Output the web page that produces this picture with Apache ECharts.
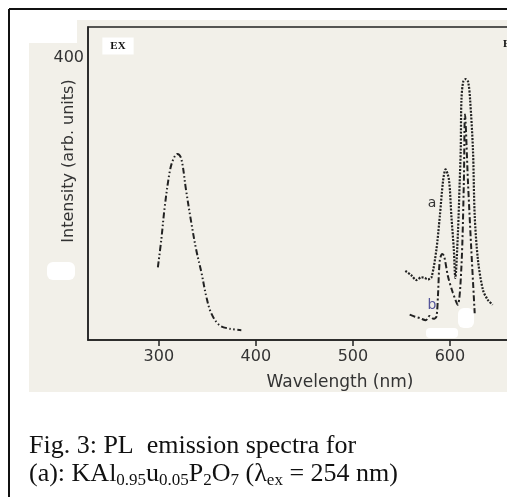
<!DOCTYPE html>
<html>
<head>
<meta charset="utf-8">
<script src="https://cdn.jsdelivr.net/npm/echarts@6/dist/echarts.min.js"></script>
<style>
html,body{margin:0;padding:0;background:#fff;}
#chart{width:507px;height:497px;}
</style>
</head>
<body>
<div id="chart"></div>
<script>
// Excitation spectrum (EX)
var exWl = [299, 302.5, 306, 311, 314.5, 319, 323, 328, 333.5, 338.5, 344, 349, 354, 362.5, 373, 385];
var exI  = [103, 142, 188, 237, 255, 264, 258, 213, 166, 128, 95, 61, 38, 21, 16, 14];
// Emission curve a
var aWl = [554, 560, 565.5, 570.5, 574, 577.5, 581, 586, 589.5, 593, 595.5, 599, 601.5, 604, 605.5, 608.2, 610, 611.1, 611.8, 613.6, 616.2, 618.8, 620.8, 623.7, 625.5, 628.9, 634, 639, 644];
var aI  = [98, 92, 85, 89, 88, 86, 89, 128, 175, 227, 242, 227, 175, 128, 88, 152, 223, 270, 340, 366, 370, 366, 340, 270, 176, 113, 71, 57, 50];
// Emission curve b
var bWl = [558.5, 564, 569, 575, 579, 583, 586, 587.6, 589.5, 592, 594, 598, 603, 608, 611.8, 614.3, 615.5, 618.6, 622, 625.5];
var bI  = [36, 33, 31, 28, 34, 30, 33, 62, 113, 122, 119, 90, 67, 50, 104, 223, 320, 223, 128, 38];
// Axis ticks
var xTicks = [300, 400, 500, 600];
var yTicks = [400];
var xMin = 227, xMax = 700, yMin = 0, yMax = 444;

function pairs(xs, ys) { return xs.map(function (x, i) { return [x, ys[i]]; }); }

var chart = echarts.init(document.getElementById('chart'));
var sans = 'DejaVu Sans';
var serif = 'Liberation Serif';
chart.setOption({
  animation: false,
  backgroundColor: '#ffffff',
  grid: {
    left: 88, top: 27, right: -40, bottom: 157,
    outerBoundsMode: 'none', containLabel: false,
    show: true, backgroundColor: 'transparent', borderColor: '#222', borderWidth: 1.5
  },
  xAxis: {
    type: 'value', min: xMin, max: xMax,
    axisLine: { show: true, lineStyle: { color: '#222', width: 1.5 } },
    axisTick: { show: true, customValues: xTicks, length: 6, lineStyle: { color: '#222', width: 1.5 } },
    axisLabel: { customValues: xTicks, margin: 9, fontFamily: sans, fontSize: 16, color: '#333' },
    splitLine: { show: false }
  },
  yAxis: {
    type: 'value', min: yMin, max: yMax,
    axisLine: { show: true, lineStyle: { color: '#222', width: 1.5 } },
    axisTick: { show: false },
    axisLabel: { customValues: yTicks, margin: 4, fontFamily: sans, fontSize: 16, color: '#333' },
    splitLine: { show: false }
  },
  series: [
    {
      type: 'line', name: 'EX', data: pairs(exWl, exI), showSymbol: false, smooth: 0.35,
      lineStyle: { color: '#222', width: 2, type: [6, 2.5, 1.5, 2.5, 1.5, 2.5] }
    },
    {
      type: 'line', name: 'a', data: pairs(aWl, aI), showSymbol: false, smooth: 0.3,
      lineStyle: { color: '#222', width: 2.2, type: [2, 1.4] }
    },
    {
      type: 'line', name: 'b', data: pairs(bWl, bI), showSymbol: false, smooth: 0.3,
      lineStyle: { color: '#222', width: 2, type: [6, 2.5, 2, 2.5] }
    }
  ],
  graphic: [
    { type: 'rect', z: -20, silent: true, shape: { x: 29, y: 20, width: 478, height: 372 }, style: { fill: '#f2f0e9' } },
    { type: 'rect', z: -19, silent: true, shape: { x: 29, y: 20, width: 48, height: 23 }, style: { fill: '#ffffff' } },
    { type: 'rect', z: -19, silent: true, shape: { x: 47, y: 262, width: 28, height: 18, r: 6 }, style: { fill: '#ffffff' } },
    { type: 'rect', z: -19, silent: true, shape: { x: 426, y: 328, width: 32, height: 10, r: 4 }, style: { fill: '#ffffff' } },
    { type: 'rect', z: -19, silent: true, shape: { x: 458, y: 308, width: 16, height: 20, r: 6 }, style: { fill: '#ffffff' } },
    { type: 'line', z: 50, silent: true, shape: { x1: 9, y1: 9, x2: 507, y2: 9 }, style: { stroke: '#111', lineWidth: 2 } },
    { type: 'line', z: 50, silent: true, shape: { x1: 9, y1: 9, x2: 9, y2: 497 }, style: { stroke: '#111', lineWidth: 2 } },
    { type: 'text', z: 60, style: { text: 'EX', x: 118, y: 46, align: 'center', verticalAlign: 'middle', font: 'bold 11px "Liberation Serif"', fill: '#111', backgroundColor: '#fff', padding: [3, 8] } },
    { type: 'text', z: 60, style: { text: 'EM', x: 503, y: 44, align: 'left', verticalAlign: 'middle', font: 'bold 11px "Liberation Serif"', fill: '#111' } },
    { type: 'text', z: 60, style: { text: 'a', x: 432, y: 203, align: 'center', verticalAlign: 'middle', font: '14px "DejaVu Sans"', fill: '#333' } },
    { type: 'text', z: 60, style: { text: 'b', x: 432, y: 305, align: 'center', verticalAlign: 'middle', font: '14px "DejaVu Sans"', fill: '#55559a' } },
    { type: 'text', z: 60, style: { text: 'Wavelength (nm)', x: 340, y: 383, align: 'center', verticalAlign: 'middle', font: '17px "DejaVu Sans"', fill: '#333' } },
    { type: 'text', z: 60, x: 69, y: 161, rotation: Math.PI / 2, style: { text: 'Intensity (arb. units)', x: 0, y: 0, align: 'center', verticalAlign: 'middle', font: '16px "DejaVu Sans"', fill: '#333' } },
    { type: 'text', z: 60, style: {
        text: 'Fig. 3: PL  emission spectra for', x: 29, y: 431, align: 'left', verticalAlign: 'top',
        fontFamily: serif, fontSize: 26, lineHeight: 30, fill: '#111' } },
    { type: 'text', z: 60, style: {
        text: '(a): KAl{s|0.95}u{s|0.05}P{s|2}O{s|7} (λ{s|ex} = 254 nm)', x: 29, y: 459, align: 'left', verticalAlign: 'top',
        fontFamily: serif, fontSize: 26, lineHeight: 30, fill: '#111',
        rich: { s: { fontFamily: serif, fontSize: 17, lineHeight: 18, verticalAlign: 'bottom', fill: '#111' } } } }
  ]
});
</script>
</body>
</html>
